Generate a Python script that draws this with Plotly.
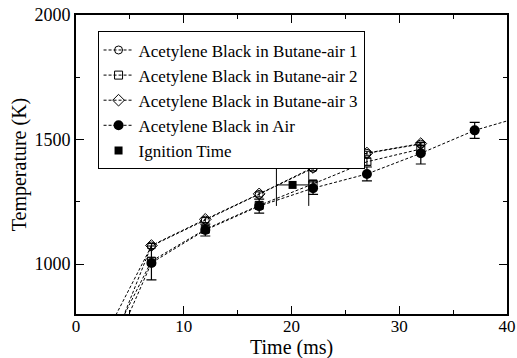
import plotly.graph_objects as go

# ---- data ----
t_open = [2, 7, 12, 17, 22, 27, 32]
T_butane1 = [653, 1073, 1177, 1280, 1385, 1445, 1482]
err_butane1 = [0, 10, 10, 10, 10, 8, 8]
T_butane2 = [585, 1012, 1140, 1236, 1322, 1411, 1462]
err_butane2 = [0, 14, 14, 14, 14, 14, 14]
T_butane3 = [527, 1075, 1180, 1282, 1388, 1446, 1484]

t_air = [2, 7, 12, 17, 22, 27, 32, 37, 42]
T_air = [511, 1005, 1137, 1233, 1305, 1362, 1445, 1537, 1600]
err_air = [0, 68, 24, 28, 25, 28, 43, 32, 30]

t_ign = [20.1]
T_ign = [1318]
err_t_ign = [1.5]

names = ["Acetylene Black in Butane-air 1", "Acetylene Black in Butane-air 2",
         "Acetylene Black in Butane-air 3", "Acetylene Black in Air", "Ignition Time"]
x_title = "Time (ms)"
y_title = "Temperature (K)"

FONT = "Liberation Serif, Times New Roman, serif"
dash = "3px,2px"

fig = go.Figure()
fig.add_trace(go.Scatter(
    x=t_open, y=T_butane1, name=names[0], mode="lines+markers",
    line=dict(color="black", width=1, dash=dash),
    marker=dict(symbol="circle-open", size=8, color="black", line=dict(width=1)),
    error_y=dict(type="data", array=err_butane1, color="black", thickness=1, width=4)))
fig.add_trace(go.Scatter(
    x=t_open, y=T_butane2, name=names[1], mode="lines+markers",
    line=dict(color="black", width=1, dash=dash),
    marker=dict(symbol="square-open", size=8, color="black", line=dict(width=1)),
    error_y=dict(type="data", array=err_butane2, color="black", thickness=1, width=4)))
fig.add_trace(go.Scatter(
    x=t_open, y=T_butane3, name=names[2], mode="lines+markers",
    line=dict(color="black", width=1, dash=dash),
    marker=dict(symbol="diamond-open", size=9, color="black", line=dict(width=1))))
fig.add_trace(go.Scatter(
    x=t_air, y=T_air, name=names[3], mode="lines+markers",
    line=dict(color="black", width=1, dash=dash),
    marker=dict(symbol="circle", size=10, color="black"),
    error_y=dict(type="data", array=err_air, color="black", thickness=1.2, width=5)))
fig.add_trace(go.Scatter(
    x=t_ign, y=T_ign, name=names[4], mode="markers",
    marker=dict(symbol="square", size=8, color="black"),
    error_x=dict(type="data", array=err_t_ign, color="black", thickness=1, width=21)))

axis_common = dict(
    showline=True, linecolor="black", linewidth=2, mirror="allticks",
    ticks="inside", ticklen=8, tickwidth=1, tickcolor="black",
    showgrid=False, zeroline=False, automargin=False,
)

fig.update_xaxes(range=[0, 40], dtick=10,
                 minor=dict(ticks="inside", ticklen=4, dtick=5, tickcolor="black", showgrid=False),
                 tickfont=dict(family=FONT, size=17, color="black"),
                 ticklabelstandoff=-4,
                 **axis_common)
fig.update_yaxes(range=[800, 2000], tickvals=[1000, 1500, 2000],
                 minor=dict(ticks="inside", ticklen=4, tickvals=[1250, 1750], tickcolor="black", showgrid=False),
                 tickfont=dict(family=FONT, size=18, color="black"),
                 title=dict(text=y_title, font=dict(family=FONT, size=20, color="black"), standoff=2),
                 **axis_common)

fig.add_annotation(text=x_title, xref="paper", yref="paper", x=0.5, y=0,
                   xanchor="center", yanchor="top", yshift=-20, showarrow=False,
                   font=dict(family=FONT, size=20, color="black"))

fig.update_layout(
    width=517, height=358,
    margin=dict(l=76, r=10, t=15, b=44),
    plot_bgcolor="white", paper_bgcolor="white",
    showlegend=True,
    legend=dict(x=0.05, y=0.945, xanchor="left", yanchor="top",
                bgcolor="white", bordercolor="black", borderwidth=1,
                font=dict(family=FONT, size=17, color="black"),
                itemwidth=30, tracegroupgap=0),
    font=dict(family=FONT, color="black"),
)

fig.write_html("out.html")
